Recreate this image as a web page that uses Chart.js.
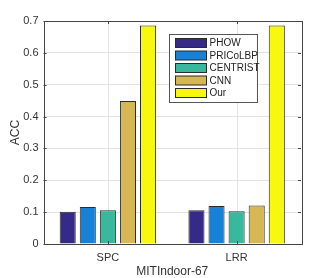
<!DOCTYPE html>
<html><head><meta charset="utf-8">
<script src="https://cdn.jsdelivr.net/npm/chart.js@4"></script>
<style>html,body{margin:0;padding:0;background:#fff}#w{width:332px;height:278px}</style>
</head><body><div id="w"><canvas id="c"></canvas></div>
<script>
const categories = ['SPC', 'LRR'];
const PHOW = [0.101, 0.106];
const PRICoLBP = [0.116, 0.119];
const CENTRIST = [0.106, 0.103];
const CNN = [0.449, 0.121];
const Our = [0.686, 0.686];
const seriesNames = ['PHOW', 'PRICoLBP', 'CENTRIST', 'CNN', 'Our'];
const yTicks = [0, 0.1, 0.2, 0.3, 0.4, 0.5, 0.6, 0.7];
const colors = ['#352A87', '#1681D6', '#38B89C', '#D7B753', '#F8F80F'];
const FONT = 'Liberation Sans, Arial, Helvetica, sans-serif';

const values = [PHOW, PRICoLBP, CENTRIST, CNN, Our];
const datasets = seriesNames.map((n, i) => ({
  label: n, data: values[i], backgroundColor: colors[i],
  borderColor: '#2b2b2b', borderWidth: 1,
  barPercentage: 0.8, categoryPercentage: 0.78
}));

const framePlugin = {
  id: 'frame',
  beforeDatasetsDraw(chart) {
    const {ctx, chartArea: a, scales} = chart;
    ctx.save();
    ctx.strokeStyle = '#e4e4e4';
    ctx.lineWidth = 1;
    categories.forEach((c, i) => {
      const x = Math.round(scales.x.getPixelForValue(i)) + 0.5;
      ctx.beginPath();
      ctx.moveTo(x, a.top); ctx.lineTo(x, a.bottom);
      ctx.stroke();
    });
    ctx.restore();
  },
  afterDatasetsDraw(chart) {
    const {ctx, chartArea: a, scales} = chart;
    ctx.save();
    ctx.strokeStyle = '#444';
    ctx.lineWidth = 1;
    ctx.strokeRect(Math.round(a.left) + 0.5, Math.round(a.top) + 0.5,
      Math.round(a.right - a.left), Math.round(a.bottom - a.top));
    yTicks.forEach(v => {
      const y = Math.round(scales.y.getPixelForValue(v)) + 0.5;
      ctx.beginPath();
      ctx.moveTo(a.left, y); ctx.lineTo(a.left + 3, y);
      ctx.moveTo(a.right, y); ctx.lineTo(a.right - 3, y);
      ctx.stroke();
    });
    categories.forEach((c, i) => {
      const x = Math.round(scales.x.getPixelForValue(i)) + 0.5;
      ctx.beginPath();
      ctx.moveTo(x, a.bottom); ctx.lineTo(x, a.bottom - 3);
      ctx.moveTo(x, a.top); ctx.lineTo(x, a.top + 3);
      ctx.stroke();
    });
    const bx = 169.5, by = 34.5, bw = 88, bh = 68;
    ctx.fillStyle = '#fff';
    ctx.fillRect(bx, by, bw, bh);
    ctx.strokeStyle = '#555';
    ctx.strokeRect(bx, by, bw, bh);
    ctx.font = '10px ' + FONT;
    ctx.textBaseline = 'middle';
    seriesNames.forEach((n, i) => {
      const y = by + 4 + i * 12.5;
      ctx.fillStyle = colors[i];
      ctx.fillRect(bx + 6, y, 31, 9);
      ctx.strokeStyle = '#2b2b2b';
      ctx.strokeRect(bx + 6, y, 31, 9);
      ctx.fillStyle = '#222';
      ctx.fillText(n, bx + 40, y + 5);
    });
    ctx.restore();
  }
};

new Chart(document.getElementById('c'), {
  type: 'bar',
  data: { labels: categories, datasets },
  options: {
    responsive: true, maintainAspectRatio: false, animation: false,
    layout: { padding: { top: 21, right: 31, left: 0, bottom: 0 } },
    plugins: { legend: { display: false }, tooltip: { enabled: false } },
    scales: {
      x: {
        grid: { display: true, drawTicks: false, color: 'rgba(0,0,0,0)' },
        border: { display: false },
        ticks: { color: '#333', font: { family: FONT, size: 11 }, padding: 7 },
        title: { display: true, text: 'MITIndoor-67', color: '#333', font: { family: FONT, size: 12 }, padding: { top: 0, bottom: -1 } },
        afterFit(s) { s.height = 34; }
      },
      y: {
        min: 0, max: 0.7,
        afterBuildTicks(s) { s.ticks = yTicks.map(v => ({ value: v })); },
        grid: { color: '#e4e4e4', drawTicks: false },
        border: { display: false },
        ticks: { color: '#333', font: { family: FONT, size: 11 }, padding: 5,
          callback: v => (v === 0 ? '0' : v.toFixed(1)) },
        title: { display: true, text: 'ACC', color: '#333', font: { family: FONT, size: 12 }, padding: { top: 8, bottom: 0 } },
        afterFit(s) { s.width = 43.5; }
      }
    }
  },
  plugins: [framePlugin]
});
</script></body></html>
